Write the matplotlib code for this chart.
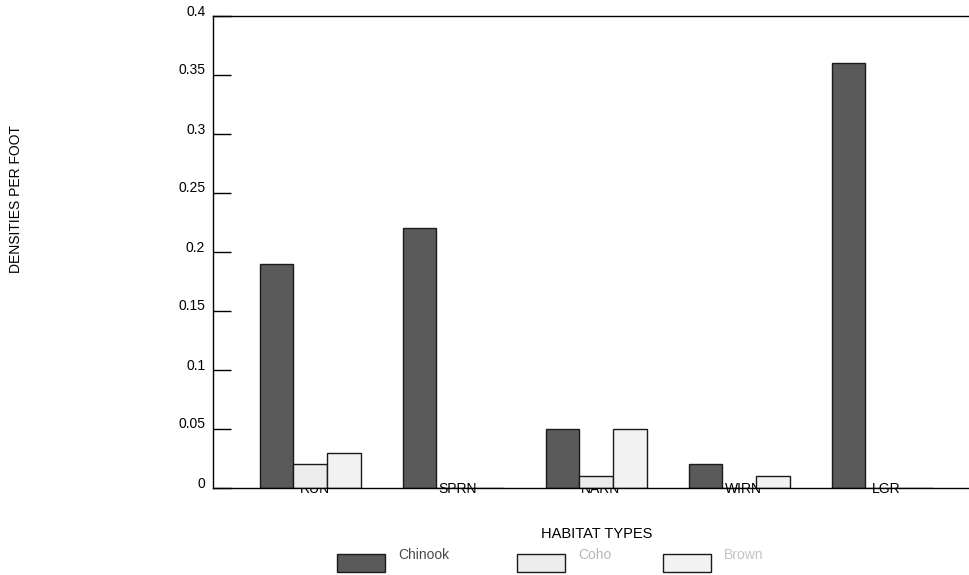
import numpy as np
from matplotlib import pyplot as plt
from matplotlib.patches import Rectangle
import matplotlib.transforms as mtransforms

plt.rcParams['font.family'] = ['Liberation Sans', 'DejaVu Sans']

habitats = ['RUN', 'SPRN', 'NARN', 'WIRN', 'LGR']
species = ['Chinook', 'Coho', 'Brown']
chinook = [0.19, 0.22, 0.05, 0.02, 0.36]
coho = [0.02, 0.0, 0.01, 0.0, 0.0]
brown = [0.03, 0.0, 0.05, 0.01, 0.0]
yticks = [0, 0.05, 0.1, 0.15, 0.2, 0.25, 0.3, 0.35, 0.4]
ytick_labels = ['0', '0.05', '0.1', '0.15', '0.2', '0.25', '0.3', '0.35', '0.4']

colors = ['#5a5a5a', '#ececec', '#f2f2f2']
text_colors = ['#4a4a4a', '#b8b8b8', '#c4c4c4']

fig = plt.figure(figsize=(9.69, 5.75), dpi=100)
W, H = 969.0, 575.0
ax = fig.add_axes([213/W, (575-488)/H, (968-213)/W, (488-16)/H])

x = np.arange(len(habitats))
w = 0.235
for i, vals in enumerate([chinook, coho, brown]):
    ax.bar(x + (i-1)*w, vals, w, color=colors[i], edgecolor='#1a1a1a', linewidth=1.0, zorder=3)

ax.set_xlim(-0.68, 4.60)
ax.set_ylim(0, 0.4)

ax.spines['right'].set_visible(False)
for s in ['left', 'bottom', 'top']:
    ax.spines[s].set_linewidth(1.0)
    ax.spines[s].set_color('black')
    ax.spines[s].set_zorder(4)

ax.set_yticks(yticks)
ax.set_yticklabels(ytick_labels)
ax.tick_params(axis='y', direction='in', length=13, width=1.0, pad=5.5, labelsize=10, colors='black')
offset = mtransforms.ScaledTranslation(0, 6/100, fig.dpi_scale_trans)
for lab in ax.get_yticklabels():
    lab.set_transform(lab.get_transform() + offset)

ax.set_xticks(x + 0.03)
ax.set_xticklabels(habitats)
ax.tick_params(axis='x', length=0, pad=-4, labelsize=10)

fig.text(597/W, 1 - 534/H, 'HABITAT TYPES', ha='center', va='center', fontsize=10.5)
fig.text(16/W, 1 - 199/H, 'DENSITIES PER FOOT', ha='center', va='center', rotation=90, fontsize=10)

# legend
patch_x = [337, 517, 663]
for i, name in enumerate(species):
    fig.add_artist(Rectangle((patch_x[i]/W, 1 - 572/H), 48/W, 18/H, transform=fig.transFigure,
                             facecolor=colors[i], edgecolor='#1a1a1a', linewidth=1.0))
    fig.text((patch_x[i] + 61)/W, 1 - 555/H, name, ha='left', va='center', fontsize=10, color=text_colors[i])

fig.savefig('out.png', dpi=100)
